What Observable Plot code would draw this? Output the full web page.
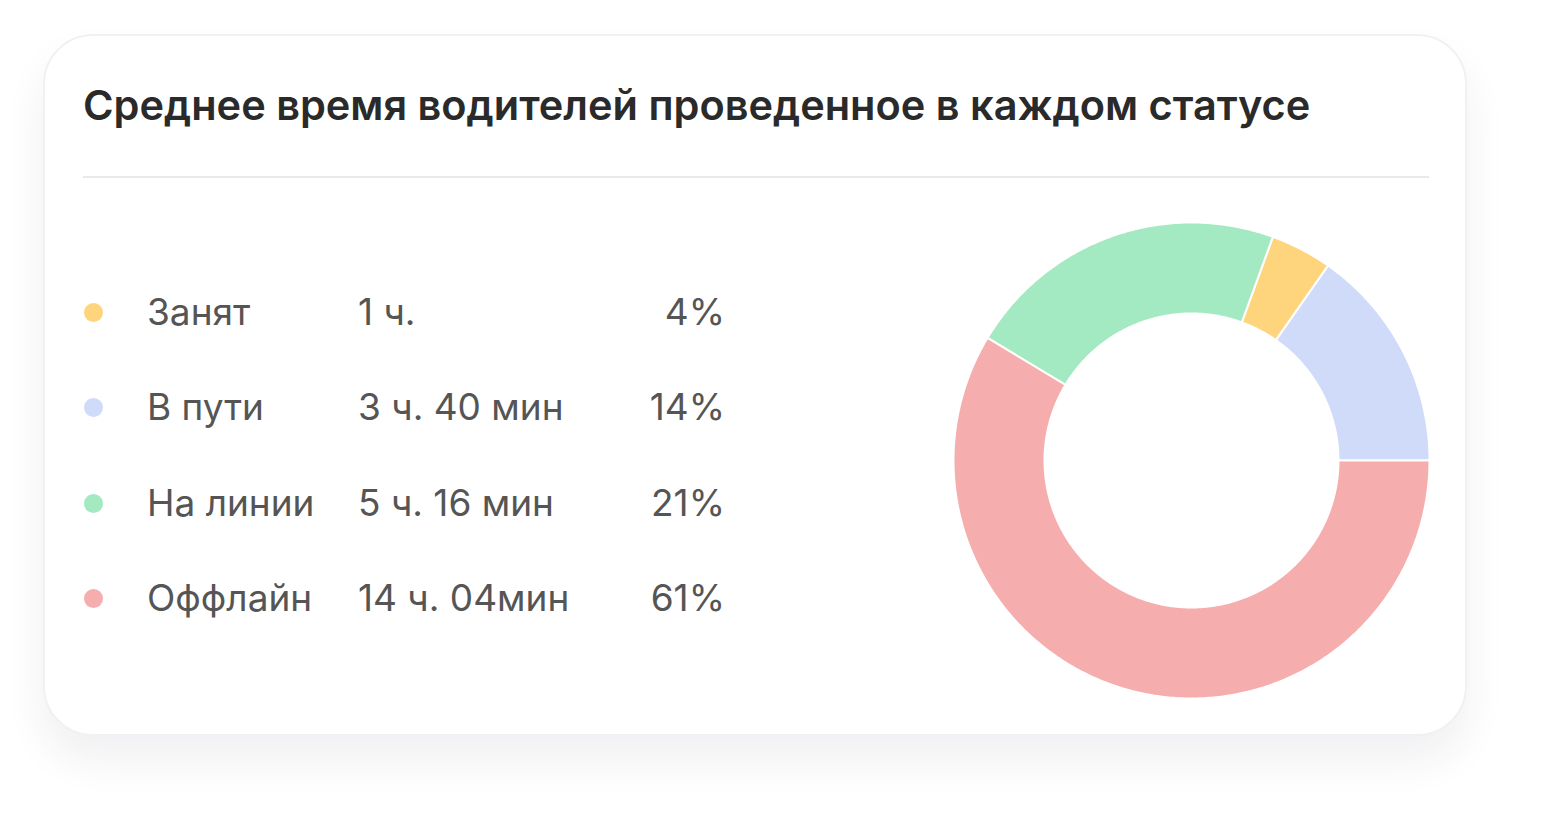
<!DOCTYPE html>
<html>
<head>
<meta charset="utf-8">
<script src="https://cdn.jsdelivr.net/npm/d3@7"></script>
<script src="https://cdn.jsdelivr.net/npm/@observablehq/plot@0.6"></script>
<style>
  html, body { margin: 0; padding: 0; background: #ffffff; }
  body { width: 1544px; height: 820px; position: relative; overflow: hidden; font-family: Inter, "Noto Sans", sans-serif; }
  .card { position: absolute; left: 43px; top: 34px; width: 1420px; height: 698px; background: #fff;
          border: 2px solid #f1f1f3; border-radius: 50px; box-shadow: 0 24px 40px rgba(40,40,70,0.07); }
  .title { position: absolute; left: 83px; top: 80px; height: 50px; line-height: 50px; font-size: 41.5px; font-weight: 600; color: #2a2a2a; white-space: nowrap; }
  .divider { position: absolute; left: 83px; top: 176px; width: 1346px; height: 2px; background: #e9e9eb; }
  .legend { position: absolute; left: 0; top: 0; width: 1544px; height: 820px; }
  .row { position: absolute; height: 44px; line-height: 44px; font-size: 37px; color: #555555; white-space: nowrap; }
  .dot { position: absolute; width: 19px; height: 19px; border-radius: 50%; }
  #donut { position: absolute; left: 941px; top: 210px; }
</style>
</head>
<body>
<div class="card"></div>
<div class="title" id="title"></div>
<div class="divider"></div>
<div class="legend" id="legend"></div>
<div id="donut"></div>
<script>
const title = "Среднее время водителей проведенное в каждом статусе";
// legend order
const statuses = ["Занят", "В пути", "На линии", "Оффлайн"];
const durations = ["1 ч.", "3 ч. 40 мин", "5 ч. 16 мин", "14 ч. 04мин"];
const minutes = [60, 220, 316, 844];
const percents = ["4%", "14%", "21%", "61%"];
const colors = ["#FED57D", "#CFDBF8", "#A3E9C1", "#F6ADAD"];
// order of slices counter-clockwise from 3 o'clock
const sliceOrder = ["В пути", "Занят", "На линии", "Оффлайн"];

document.getElementById("title").textContent = title;

// legend (HTML)
const legend = document.getElementById("legend");
const rowY = [312, 407, 503, 598];
statuses.forEach((s, i) => {
  const y = rowY[i];
  const dot = document.createElement("div");
  dot.className = "dot";
  dot.style.left = (93 - 9.5) + "px";
  dot.style.top = (y - 9.5) + "px";
  dot.style.background = colors[i];
  legend.appendChild(dot);
  const mk = (txt, left, align) => {
    const d = document.createElement("div");
    d.className = "row";
    d.textContent = txt;
    d.style.top = (y - 22) + "px";
    if (align === "right") { d.style.right = (1544 - left) + "px"; }
    else d.style.left = left + "px";
    legend.appendChild(d);
  };
  mk(s, 147);
  mk(durations[i], 358);
  mk(percents[i], 725, "right");
});

// donut geometry from the data via d3.pie
const rOuter = 238, rInner = 147;
const sliceData = sliceOrder.map(s => ({status: s, value: minutes[statuses.indexOf(s)]}));
const arcs = d3.pie().sort(null).value(d => d.value).startAngle(0).endAngle(2 * Math.PI)(sliceData);
const pts = [];
for (const a of arcs) {
  const n = Math.max(2, Math.ceil((a.endAngle - a.startAngle) / 0.01));
  const ring = [];
  for (let k = 0; k <= n; k++) {
    const t = a.startAngle + (a.endAngle - a.startAngle) * k / n;
    ring.push({status: a.data.status, x: rOuter * Math.cos(t), y: rOuter * Math.sin(t)});
  }
  for (let k = n; k >= 0; k--) {
    const t = a.startAngle + (a.endAngle - a.startAngle) * k / n;
    ring.push({status: a.data.status, x: rInner * Math.cos(t), y: rInner * Math.sin(t)});
  }
  ring.push({...ring[0]});
  pts.push(...ring);
}

const chart = Plot.plot({
  width: 500,
  height: 500,
  margin: 0,
  x: {domain: [-250, 250], axis: null},
  y: {domain: [-250, 250], axis: null},
  color: {domain: statuses, range: colors},
  marks: [
    Plot.line(pts, {x: "x", y: "y", z: "status", fill: "status", stroke: "white", strokeWidth: 2, curve: "linear"})
  ]
});
document.getElementById("donut").appendChild(chart);
</script>
</body>
</html>
